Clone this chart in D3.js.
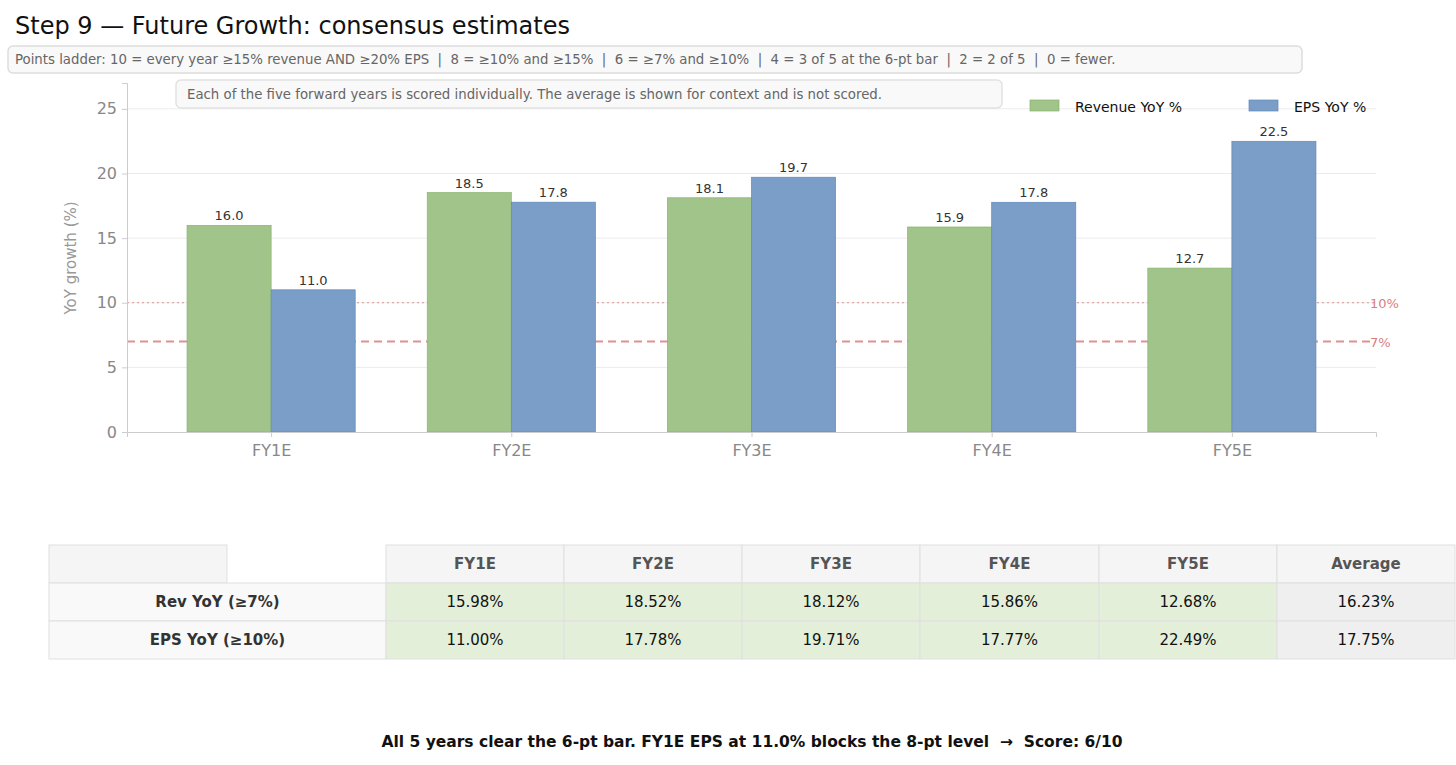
<!DOCTYPE html>
<html><head><meta charset="utf-8">
<script src="https://cdn.jsdelivr.net/npm/d3@7"></script>
<style>body{margin:0;background:#fff;font-family:"DejaVu Sans",sans-serif}</style>
</head><body><svg id="c" width="1456" height="765"></svg>
<script>
const YEARS = ["FY1E", "FY2E", "FY3E", "FY4E", "FY5E"]
const REV = [15.98, 18.52, 18.12, 15.86, 12.68]
const EPS = [11.00, 17.78, 19.71, 17.77, 22.49]
const AVG = [16.23, 17.75]
const ROWS = ["Rev YoY (≥7%)", "EPS YoY (≥10%)"]
const Y_TICKS = [0, 5, 10, 15, 20, 25]
const THRESH = [{ v: 10, label: "10%", dash: "2,3", w: 1 }, { v: 7, label: "7%", dash: "8,5", w: 2 }]

const svg = d3.select("#c")
const x = d3.scaleLinear().domain([-0.6, 4.6]).range([127, 1376])
const y = d3.scaleLinear().domain([0, 27]).range([432, 83])
const bw = x(0.35) - x(0)

svg.append("text").attr("x", 15).attr("y", 34).attr("font-size", 24).attr("fill", "#111")
  .text("Step 9 — Future Growth: consensus estimates")

// ladder box
svg.append("rect").attr("x", 8).attr("y", 46).attr("width", 1294).attr("height", 27).attr("rx", 5)
  .attr("fill", "#f9f9f9").attr("stroke", "#ddd").attr("stroke-width", 1.5)
svg.append("text").attr("x", 15).attr("y", 64).attr("font-size", 13.3).attr("fill", "#666")
  .attr("xml:space", "preserve")
  .text("Points ladder: 10 = every year ≥15% revenue AND ≥20% EPS  |  8 = ≥10% and ≥15%  |  6 = ≥7% and ≥10%  |  4 = 3 of 5 at the 6-pt bar  |  2 = 2 of 5  |  0 = fewer.")

// grid
const g = svg.append("g")
g.selectAll("line.grid").data(Y_TICKS.slice(1)).join("line")
  .attr("x1", 127).attr("x2", 1376).attr("y1", d => y(d)).attr("y2", d => y(d))
  .attr("stroke", "#ececec")

// note box
svg.append("rect").attr("x", 176).attr("y", 80).attr("width", 826).attr("height", 28).attr("rx", 5)
  .attr("fill", "#f9f9f9").attr("stroke", "#e2e2e2").attr("stroke-width", 1.5)
svg.append("text").attr("x", 187).attr("y", 99).attr("font-size", 13.3).attr("fill", "#666")
  .text("Each of the five forward years is scored individually. The average is shown for context and is not scored.")

// threshold lines
THRESH.forEach(t => {
  g.append("line").attr("x1", 127).attr("x2", 1376).attr("y1", y(t.v)).attr("y2", y(t.v))
    .attr("stroke", "#d98080").attr("stroke-width", t.w).attr("stroke-dasharray", t.dash)
    .attr("opacity", t.w > 1 ? 0.85 : 0.8)
  g.append("text").attr("x", 1370).attr("y", y(t.v) + 5).attr("font-size", 13).attr("fill", "#d98080").text(t.label)
})

// bars
const series = [
  { vals: REV, off: -1, fill: "#a1c48a", stroke: "#86b36c" },
  { vals: EPS, off: 0, fill: "#7a9ec7", stroke: "#5f88bb" }
]
series.forEach(s => {
  g.selectAll(null).data(s.vals).join("rect")
    .attr("x", (d, i) => x(i) + s.off * bw).attr("width", bw)
    .attr("y", d => y(d)).attr("height", d => y(0) - y(d))
    .attr("fill", s.fill).attr("stroke", s.stroke).attr("stroke-width", 0.7)
  g.selectAll(null).data(s.vals).join("text")
    .attr("x", (d, i) => x(i) + s.off * bw + bw / 2).attr("y", d => y(d) - 5)
    .attr("text-anchor", "middle").attr("font-size", 13).attr("fill", "#333")
    .text(d => d.toFixed(1))
})

// axes
const ya = svg.append("g").attr("transform", "translate(127,0)")
  .call(d3.axisLeft(y).tickValues(Y_TICKS).tickSize(5).tickPadding(5))
ya.select(".domain").attr("stroke", "#ccc")
ya.selectAll(".tick line").attr("stroke", "#ccc")
ya.selectAll("text").attr("font-size", 16).attr("fill", "#888").attr("font-family", "DejaVu Sans")
const xa = svg.append("g").attr("transform", "translate(0,432)")
  .call(d3.axisBottom(x).tickValues([0, 1, 2, 3, 4]).tickFormat(i => YEARS[i]).tickSize(5).tickPadding(8))
xa.select(".domain").attr("stroke", "#ccc")
xa.selectAll(".tick line").attr("stroke", "#ccc")
xa.selectAll("text").attr("font-size", 16).attr("fill", "#888").attr("font-family", "DejaVu Sans")
svg.append("text").attr("transform", "translate(76,258) rotate(-90)").attr("text-anchor", "middle")
  .attr("font-size", 15).attr("fill", "#999").text("YoY growth (%)")

// legend
;[["Revenue YoY %", 1030, series[0]], ["EPS YoY %", 1249, series[1]]].forEach(([t, lx, s]) => {
  svg.append("rect").attr("x", lx).attr("y", 100).attr("width", 29).attr("height", 11)
    .attr("fill", s.fill).attr("stroke", s.stroke).attr("stroke-width", 0.7)
  svg.append("text").attr("x", lx + 45).attr("y", 112).attr("font-size", 14).attr("fill", "#111").text(t)
})

// table
const tx = [49, 227, 386, 564, 742, 920, 1099, 1277, 1455]
const ty = [545, 583, 621, 659]
const T = svg.append("g").attr("font-size", 15)
const cell = (x0, x1, y0, fill, txt, bold, col) => {
  T.append("rect").attr("x", x0).attr("y", y0).attr("width", x1 - x0).attr("height", 38)
    .attr("fill", fill).attr("stroke", "#e0e0e0").attr("stroke-width", 1)
  if (txt) T.append("text").attr("x", (x0 + x1) / 2).attr("y", y0 + 24).attr("text-anchor", "middle")
    .attr("font-weight", bold ? "bold" : "normal").attr("fill", col).text(txt)
}
cell(tx[0], tx[1], ty[0], "#f5f5f5", "", true, "#555")
YEARS.concat(["Average"]).forEach((h, i) => cell(tx[i + 2], tx[i + 3], ty[0], "#f5f5f5", h, true, "#555"))
;[REV, EPS].forEach((vals, r) => {
  cell(tx[0], tx[2], ty[r + 1], "#f9f9f9", ROWS[r], true, "#333")
  vals.forEach((v, i) => cell(tx[i + 2], tx[i + 3], ty[r + 1], "#e3efd9", v.toFixed(2) + "%", false, "#111"))
  cell(tx[7], tx[8], ty[r + 1], "#efefef", AVG[r].toFixed(2) + "%", false, "#111")
})

svg.append("text").attr("x", 752).attr("y", 747).attr("text-anchor", "middle").attr("font-size", 15.5)
  .attr("font-weight", "bold").attr("fill", "#111").attr("xml:space", "preserve")
  .text("All 5 years clear the 6-pt bar. FY1E EPS at 11.0% blocks the 8-pt level  →  Score: 6/10")
</script></body></html>
